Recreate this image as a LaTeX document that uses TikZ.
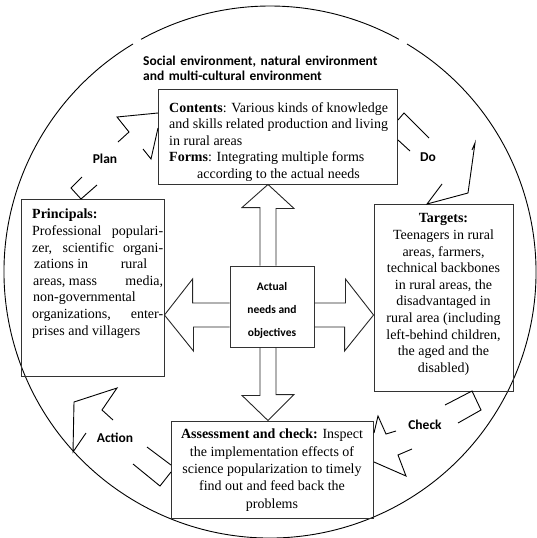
\documentclass[tikz,border=0pt]{standalone}
\usepackage{fontspec}
\setmainfont{Liberation Serif}
\newfontfamily\calibri{Carlito}
\usetikzlibrary{calc}

\newcommand{\jline}[2]{\makebox[#1][s]{#2}}

\tikzset{
  box/.style={draw=black!80, line width=0.9pt, inner sep=0pt},
  txt/.style={inner sep=0pt, font=\fontsize{14}{16.6}\selectfont},
  lab/.style={inner sep=0pt, font=\calibri\bfseries\fontsize{13.5}{14.5}\selectfont},
  cyc/.style={draw=black, line width=0.9pt},
  blk/.style={draw=black!85, line width=0.9pt, line join=miter},
}

\begin{document}
\begin{tikzpicture}[x=1pt,y=-1pt]
\useasboundingbox (0,0) rectangle (537,538);

% The outer circle, broken twice at the top
\draw[cyc] (270,272) ++(241:266) arc[start angle=241, end angle=299, radius=266];
\draw[cyc] (270,272) ++(301:266) arc[start angle=301, end angle=599, radius=266];

\node[lab, anchor=north west, text width=256pt, align=left] (env) at (143,56)
  {\jline{256pt}{Social environment, natural environment}\\and multi-cultural environment};

% The five boxes
\node[box, minimum width=239pt, minimum height=95pt] (contents) at (277.5,136.5) {};
\node[box, minimum width=143pt, minimum height=177pt] (principals) at (92.5,287.5) {};
\node[box, minimum width=139pt, minimum height=187pt] (targets) at (443.5,297.5) {};
\node[box, minimum width=202pt, minimum height=97pt] (assess) at (272,469.5) {};
\node[box, minimum width=84pt, minimum height=81pt] (needs) at (272,306.5) {};

\node[align=center, inner sep=0pt, font=\calibri\bfseries\fontsize{11.5}{23}\selectfont]
  (needstxt) at (272,310) {Actual\\needs and\\objectives};

\node[txt, anchor=north west, align=left] (contentstxt) at (169,102)
  {\textbf{Contents}: Various kinds of knowledge\\and skills related production and living\\in rural areas\\
   \textbf{Forms}: Integrating multiple forms\\\hspace*{2em}according to the actual needs};

\node[txt, anchor=north west, align=left] (principalstxt) at (32,209)
  {\textbf{Principals:}\\\jline{131pt}{Professional populari-}\\\jline{131pt}{zer, scientific organi-}\\
   \hspace*{2pt}\jline{113pt}{zations in\hfill rural}\\\hspace*{1pt}\jline{130pt}{areas, mass\hfill media,}\\
   \hspace*{1pt}non-governmental\\\jline{131pt}{organizations, enter-}\\prises and villagers};

\node[txt, anchor=north, align=center] (targetstxt) at (443.5,213.5)
  {\textbf{Targets:}\\Teenagers in rural\\areas, farmers,\\technical backbones\\in rural areas, the\\
   disadvantaged in\\rural area (including\\left-behind children,\\the aged and the\\disabled)};

\node[txt, anchor=north, align=center, font=\fontsize{14}{17.3}\selectfont] (assesstxt) at (272,429)
  {\textbf{Assessment and check:} Inspect\\the implementation effects of\\
   science popularization to timely\\find out and feed back the\\problems};

% Block arrows out of the centre box
\coordinate (ax) at (268,315);
\draw[blk] ($(ax |- needs.north)+(-8,0)$) -- ++(0,-58) -- ++(-18,0) -- (ax |- contents.south)
  -- ++(26,24) -- ++(-18,0) -- ($(ax |- needs.north)+(8,0)$);
\draw[blk] ($(ax |- needs.south)+(-8,0)$) -- ++(0,48) -- ++(-18,0) -- (ax |- assess.north)
  -- ++(26,-26) -- ++(-18,0) -- ($(ax |- needs.south)+(8,0)$);
\draw[blk] ($(ax -| needs.west)+(0,-12)$) -- ++(-37,0) -- ++(0,-24) -- (ax -| principals.east)
  -- ++(29,36) -- ++(0,-24) -- ($(ax -| needs.west)+(0,12)$);
\draw[blk] ($(ax -| needs.east)+(0,-12)$) -- ++(31,0) -- ++(0,-24) -- (ax -| targets.west)
  -- ++(-29,36) -- ++(0,-24) -- ($(ax -| needs.east)+(0,12)$);

% The cycle: Plan, Do, Check, Action
\foreach \nm/\x/\y in {Plan/105/159, Do/428/157, Check/425/425, Action/115/438}{
  \node[lab] (\nm) at (\x,\y) {\nm};
}

% Plan
\draw[cyc] (158,113) -- (117,117) -- (129,132) -- (118,142);
\draw[cyc] (143,149) -- (151,159) -- (158,128);
\draw[cyc] (82,177) -- (71,188) -- (81,199) -- (97,185);
% Do
\draw[cyc] (398,120) -- (404,113) -- (429,138);
\draw[cyc] (398,140) -- (410,151);
\draw[cyc] (442,184) -- (427,204) -- (468,193) -- (475,143) -- (472,150);
% Check
\draw[cyc] (445,405) -- (472,391) -- (481,410) -- (458,423);
\draw[cyc] (374,433) -- (378,416) -- (386,434) -- (396,431);
\draw[cyc] (412,449) -- (398,455) -- (406,476) -- (374,462);
% Action
\draw[cyc] (113,420) -- (102,410) -- (117,388) -- (74,402) -- (73,452) -- (86,433);
\draw[cyc] (147,447) -- (171,465);
\draw[cyc] (133,464) -- (160,486) -- (171,472);

\end{tikzpicture}
\end{document}
